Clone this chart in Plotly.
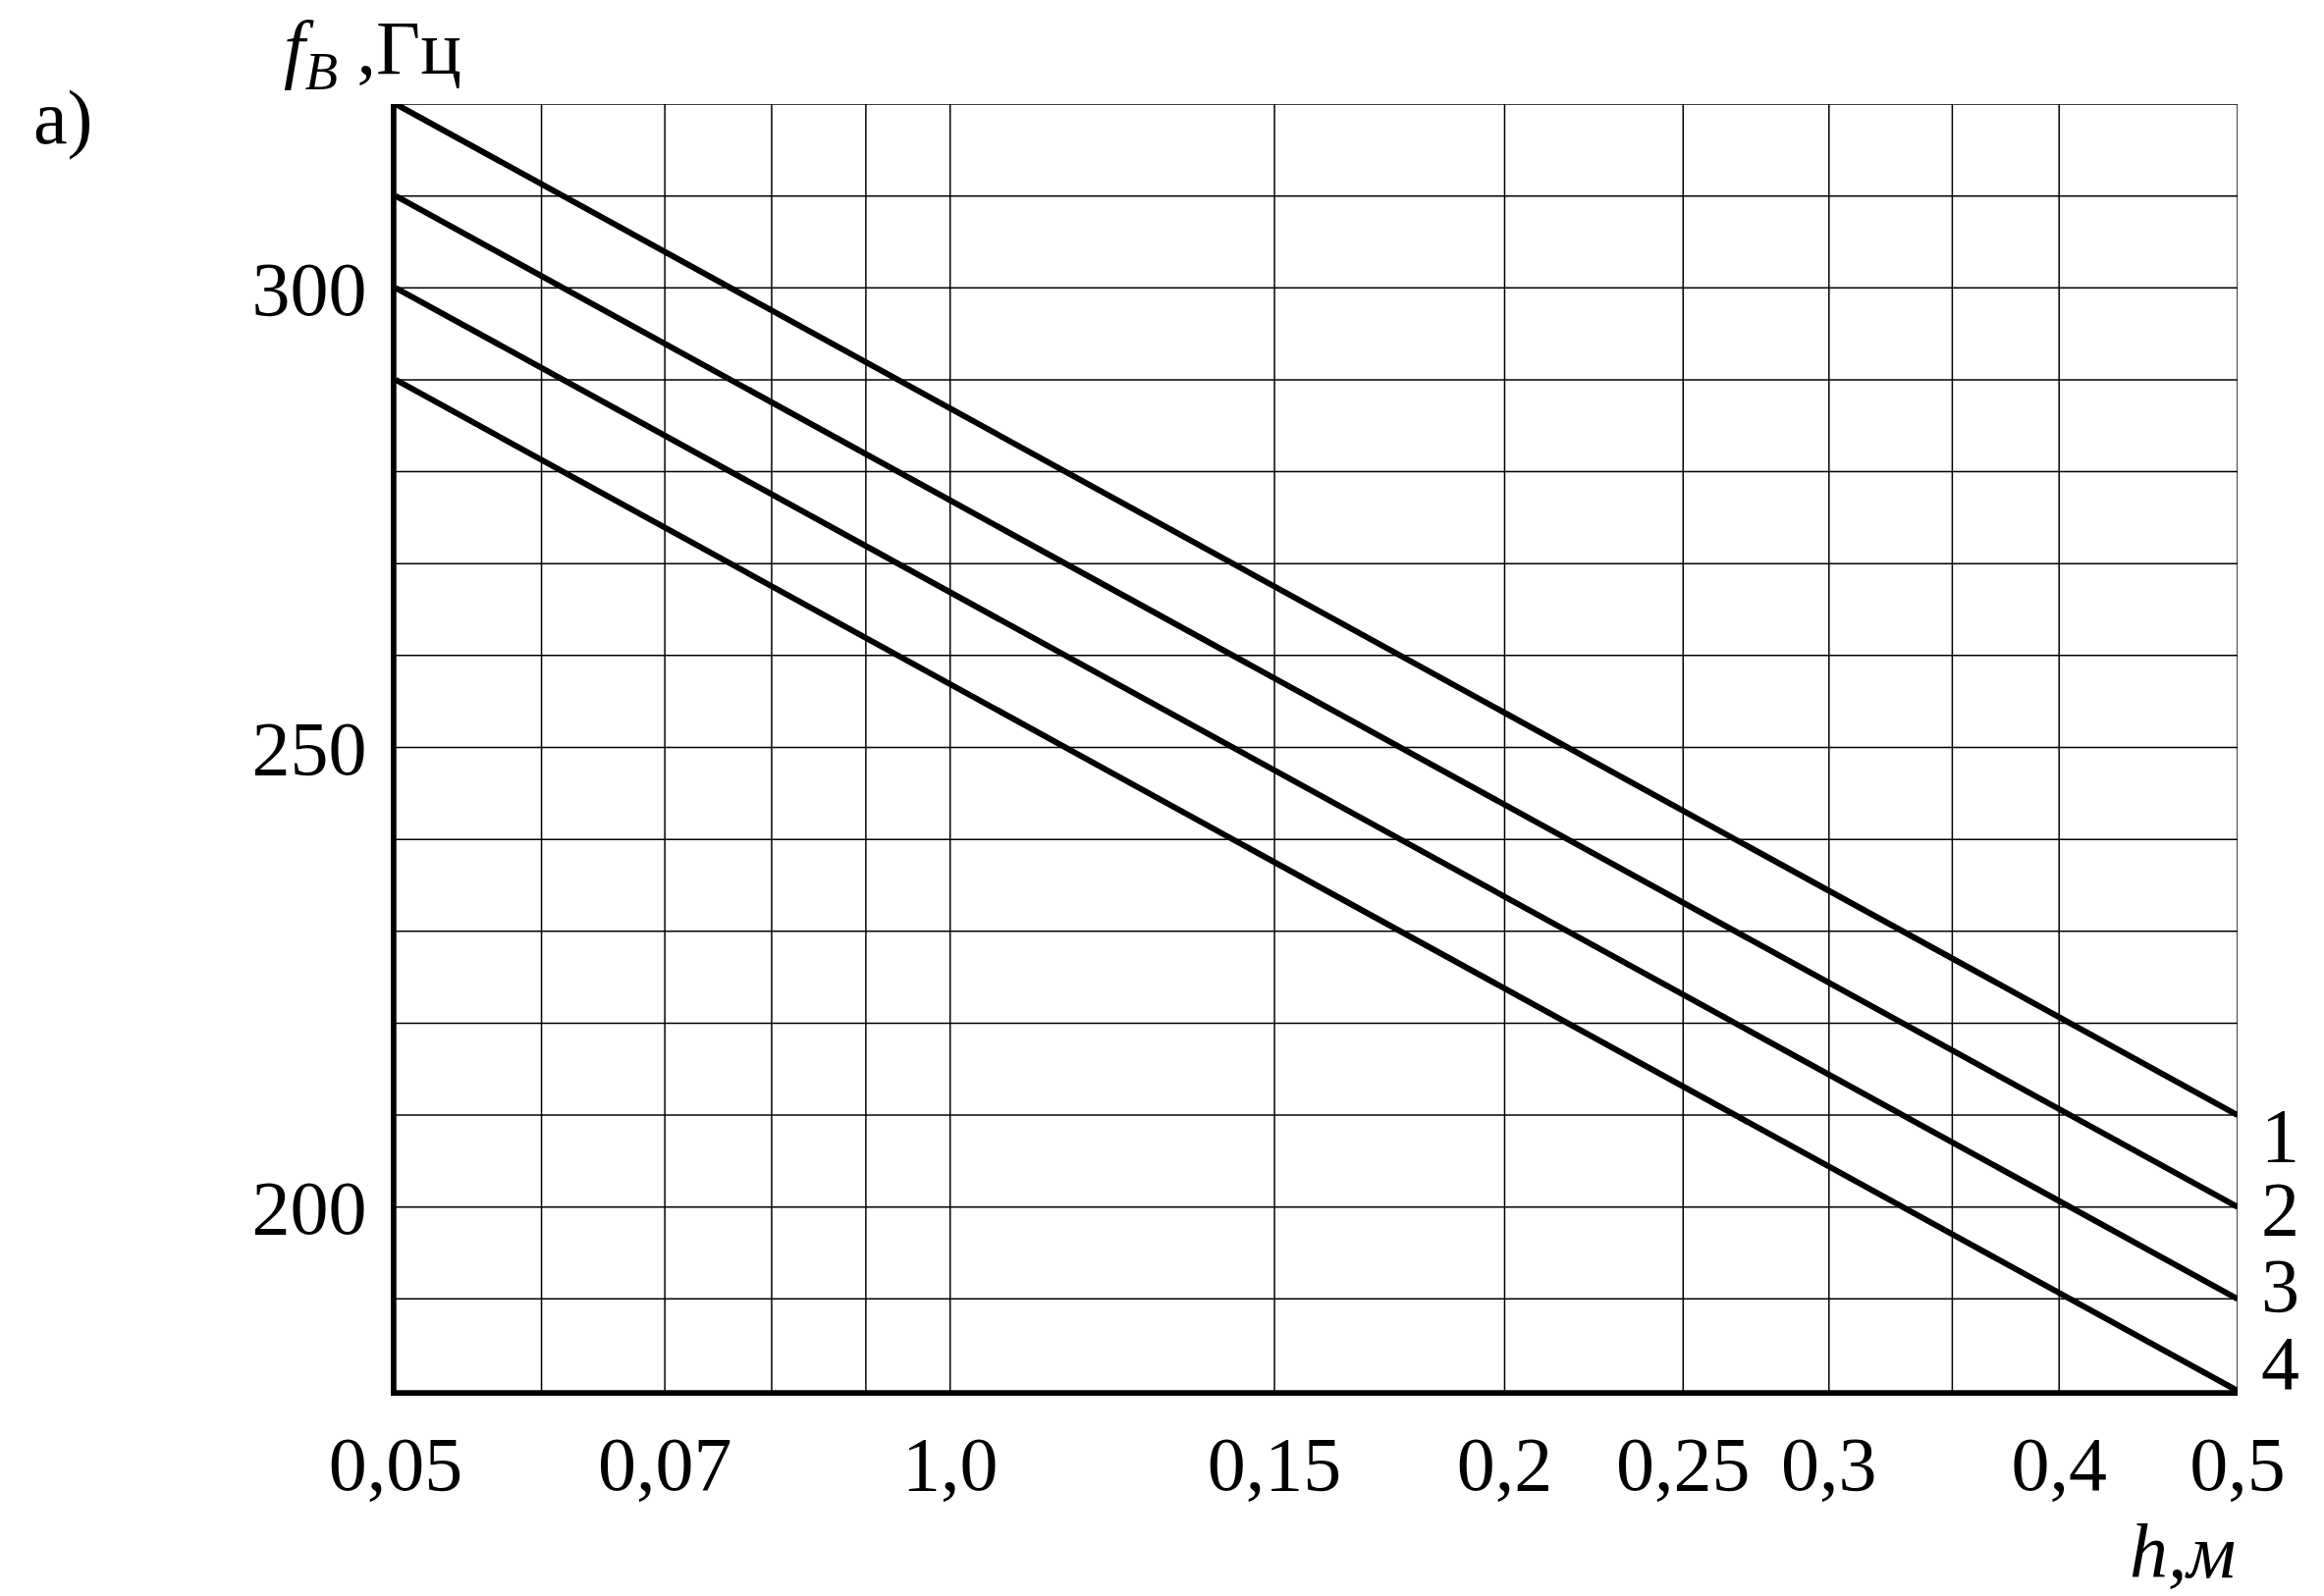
import plotly.graph_objects as go

h_ends = [0.05, 0.5]
curve_names = ["1", "2", "3", "4"]
f_start = [320, 310, 300, 290]
f_end = [210, 200, 190, 180]

x_grid = [0.05, 0.06, 0.07, 0.08, 0.09, 0.1, 0.15, 0.2, 0.25, 0.3, 0.35, 0.4, 0.5]
x_tickvals = [0.05, 0.07, 0.1, 0.15, 0.2, 0.25, 0.3, 0.4, 0.5]
x_ticktext = ["0,05", "0,07", "1,0", "0,15", "0,2", "0,25", "0,3", "0,4", "0,5"]
y_tickvals = [200, 250, 300]
y_ticktext = ["200", "250", "300"]
y_grid = list(range(180, 321, 10))

FONT = "Liberation Serif"
FS = 78
fig = go.Figure()

for xv in x_grid:
    fig.add_trace(go.Scatter(x=[xv, xv], y=[180, 320], mode="lines",
                             line=dict(color="black", width=1.5),
                             hoverinfo="skip", showlegend=False))
for yv in y_grid:
    fig.add_trace(go.Scatter(x=[0.05, 0.5], y=[yv, yv], mode="lines",
                             line=dict(color="black", width=1.5),
                             hoverinfo="skip", showlegend=False))

label_shift = [-20, -2, 14, 29]
for name, a, b, s in zip(curve_names, f_start, f_end, label_shift):
    fig.add_trace(go.Scatter(x=h_ends, y=[a, b], mode="lines", name=name,
                             line=dict(color="black", width=6),
                             showlegend=False))
    fig.add_annotation(x=1, xref="paper", xshift=22, y=b, yref="y",
                       yshift=s, text=name, showarrow=False, xanchor="left",
                       yanchor="middle",
                       font=dict(family=FONT, size=FS, color="black"))

fig.update_xaxes(type="log", range=[-1.30103, -0.30103],
                 tickvals=x_tickvals, ticktext=x_ticktext,
                 showgrid=False, zeroline=False,
                 showline=True, linecolor="black", linewidth=5,
                 ticks="", ticklabelstandoff=2,
                 tickfont=dict(family=FONT, size=FS, color="black"))
fig.update_yaxes(range=[180, 320], tickvals=y_tickvals, ticktext=y_ticktext,
                 showgrid=False, zeroline=False,
                 showline=True, linecolor="black", linewidth=5,
                 ticks="", ticklabelstandoff=9,
                 tickfont=dict(family=FONT, size=FS, color="black"))

fig.add_annotation(xref="paper", yref="paper", x=-0.198, y=0.99,
                   xanchor="left", yanchor="middle", showarrow=False,
                   text="а)", font=dict(family=FONT, size=FS, color="black"))
fig.add_annotation(xref="paper", yref="paper", x=-0.062, y=1.04,
                   xanchor="left", yanchor="middle", showarrow=False,
                   text="<i>f<sub>B</sub></i> ,Гц",
                   font=dict(family=FONT, size=FS, color="black"))
fig.add_annotation(xref="paper", yref="paper", x=1.0, y=-0.125,
                   xanchor="right", yanchor="middle", showarrow=False,
                   text="<i>h,м</i>",
                   font=dict(family=FONT, size=FS, color="black"))

fig.update_layout(width=2367, height=1626,
                  margin=dict(l=395, r=96, t=98, b=217),
                  paper_bgcolor="white", plot_bgcolor="white")

fig.write_html("out.html")
